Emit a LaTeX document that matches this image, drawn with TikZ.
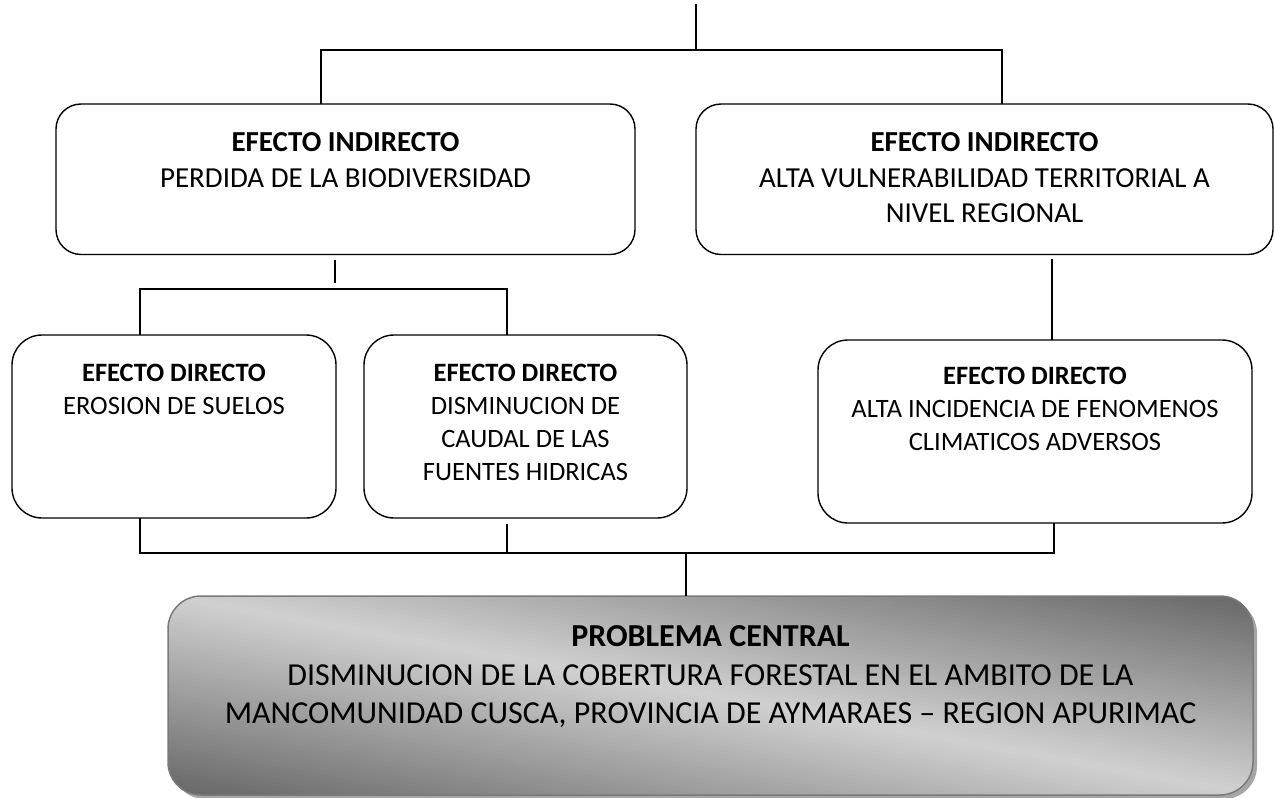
\documentclass[tikz,border=0pt]{standalone}
\usepackage{fontspec}
\setmainfont{Carlito}
\usetikzlibrary{calc}
\definecolor{pcborder}{HTML}{7A7A7A}
\definecolor{pcshadow}{HTML}{A6A6A6}
\tikzset{
  conn/.style={line width=1.4pt, draw=black},
  effbox/.style={draw=black, line width=1.4pt, fill=white, inner sep=0pt, outer sep=0pt},
  indbox/.style={effbox, rounded corners=25pt, minimum height=150.5pt},
  dirbox/.style={effbox, rounded corners=30pt, minimum height=183pt},
  pcbox/.style={inner sep=0pt, outer sep=0pt, minimum width=1085pt, minimum height=199pt},
  pcedge/.style={draw=pcborder, line width=1.5pt, rounded corners=33pt},
  pcshade/.style={fill=pcshadow, rounded corners=33pt, inner sep=0pt, outer sep=0pt,
    minimum width=1085pt, minimum height=199pt},
  indtxt/.style={anchor=north, align=center, inner sep=0pt, font=\fontsize{29}{35.5}\selectfont},
  dirtxt/.style={anchor=north, align=center, inner sep=0pt, font=\fontsize{26.5}{32.8}\selectfont},
  pctxt/.style={anchor=north, align=center, inner sep=0pt, font=\fontsize{32}{38.5}\selectfont}
}
\begin{document}
\begin{tikzpicture}[x=1pt, y=-1pt]
\useasboundingbox (0,0) rectangle (1275,798);

% boxes
\node[indbox, minimum width=579pt] (ind1) at (345.5,179.25) {};
\node[indbox, minimum width=577pt] (ind2) at (984.5,179.25) {};
\node[dirbox, minimum width=324pt] (dir1) at (174,426.5) {};
\node[dirbox, minimum width=323pt] (dir2) at (525.5,426.5) {};
\node[dirbox, minimum width=434pt] (dir3) at (1035,431.5) {};
\node[pcshade] (pcsh) at (714.5,699.5) {};
\node[pcbox] (pc) at (710.5,695.5) {};
% diagonal grey gradient of the central problem box
\begin{scope}
  \clip[rounded corners=33pt] (pc.north west) rectangle (pc.south east);
  \begin{scope}[shift={(pc.center)}, rotate=-10.4]
    \foreach \i in {-52,...,51}{
      \pgfmathsetmacro{\vc}{abs(\i*4+2)/196}
      \pgfmathtruncatemacro{\g}{209-106*min(\vc,1)}
      \fill[fill={rgb,255:red,\g;green,\g;blue,\g}] (-720,\i*4-0.4) rectangle (720,\i*4+4.4);
    }
  \end{scope}
\end{scope}
\draw[pcedge] (pc.north west) rectangle (pc.south east);

% texts
\node[indtxt] (ind1t) at (345.5,132.3) {\textbf{EFECTO INDIRECTO}\\PERDIDA DE LA BIODIVERSIDAD};
\node[indtxt] (ind2t) at (984.5,132.3) {\textbf{EFECTO INDIRECTO}\\ALTA VULNERABILIDAD TERRITORIAL A\\NIVEL REGIONAL};
\node[dirtxt] (dir1t) at (174,364.2) {\textbf{EFECTO DIRECTO}\\EROSION DE SUELOS};
\node[dirtxt] (dir2t) at (525.5,364.2) {\textbf{EFECTO DIRECTO}\\DISMINUCION DE\\CAUDAL DE LAS\\FUENTES HIDRICAS};
\node[dirtxt] (dir3t) at (1035,367.2) {\textbf{EFECTO DIRECTO}\\ALTA INCIDENCIA DE FENOMENOS\\CLIMATICOS ADVERSOS};
\node[pctxt] (pct) at (710.5,625.8) {\textbf{PROBLEMA CENTRAL}\\DISMINUCION DE LA COBERTURA FORESTAL EN EL AMBITO DE LA\\MANCOMUNIDAD CUSCA, PROVINCIA DE AYMARAES -- REGION APURIMAC};

% connector points
\coordinate (t0) at (696,4);
\coordinate (t1) at (696,50);
\coordinate (aL) at (321,50);
\coordinate (aR) at (1002,50);
\coordinate (b0) at (335,259.5);
\coordinate (b1) at (335,283);
\coordinate (bL) at (140,289);
\coordinate (bR) at (507,289);
\coordinate (c0) at (1052,259);
\coordinate (dL) at (140,553);
\coordinate (dR) at (1054,553);
\coordinate (d2) at (507,524);
\coordinate (dM) at (686,553);

% connectors
\draw[conn] (t0) -- (t1);
\draw[conn] (aL |- ind1.north) -- (aL) -- (aR) -- (aR |- ind2.north);
\draw[conn] (b0) -- (b1);
\draw[conn] (bL |- dir1.north) -- (bL) -- (bR) -- (bR |- dir2.north);
\draw[conn] (c0) -- (c0 |- dir3.north);
\draw[conn] (dL |- dir1.south) -- (dL) -- (dR) -- (dR |- dir3.south);
\draw[conn] (d2) -- (d2 |- dL);
\draw[conn] (dM) -- (dM |- pc.north);
\end{tikzpicture}
\end{document}
